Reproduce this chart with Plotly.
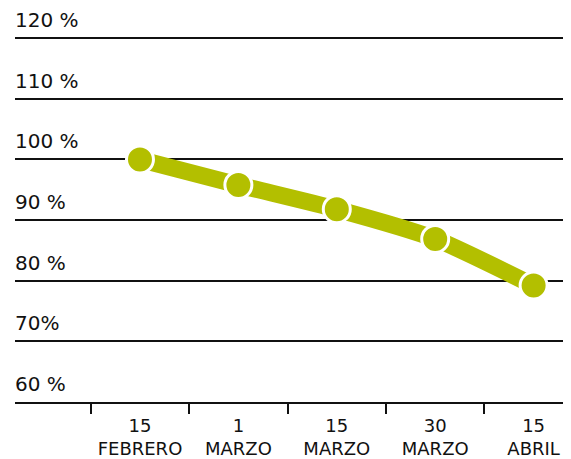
import plotly.graph_objects as go

categories = ["15<br>FEBRERO", "1<br>MARZO", "15<br>MARZO", "30<br>MARZO", "15<br>ABRIL"]
values = [100, 95.8, 91.8, 86.9, 79.2]
y_ticks = [60, 70, 80, 90, 100, 110, 120]
y_labels = ["60 %", "70%", "80 %", "90 %", "100 %", "110 %", "120 %"]

GREEN = "#b3bf00"
FONT = "DejaVu Sans, sans-serif"

fig = go.Figure()
fig.add_trace(go.Scatter(
    x=list(range(len(categories))), y=values, mode="lines+markers",
    line=dict(color=GREEN, width=17, shape="spline", smoothing=0.6),
    marker=dict(size=27, color=GREEN, line=dict(color="white", width=3)),
    hoverinfo="skip", showlegend=False, cliponaxis=False,
))

for v, lab in zip(y_ticks, y_labels):
    fig.add_annotation(x=0, xref="paper", y=v, yref="y", text=lab, showarrow=False,
                       xanchor="left", yanchor="bottom", yshift=4, xshift=-2,
                       font=dict(family=FONT, size=20, color="#111111"))

# page body has an 8px margin: figure is offset by 8px
fig.update_layout(
    width=563, height=451,
    margin=dict(l=7, r=0, t=29, b=52),
    paper_bgcolor="white", plot_bgcolor="white",
    font=dict(family=FONT, size=18, color="#111111"),
    xaxis=dict(
        tickmode="array", tickvals=list(range(len(categories))), ticktext=categories,
        range=[-1.27, 4.38], showgrid=False, zeroline=False,
        showline=False, ticks="", tickfont=dict(size=18), ticklabelstandoff=11,
    ),
    yaxis=dict(
        range=[60, 120.2], tickvals=y_ticks, showticklabels=False,
        showgrid=True, gridcolor="#111111", gridwidth=2, zeroline=False, showline=False,
    ),
)

fig.add_trace(go.Scatter(x=[None], y=[None], xaxis="x2", showlegend=False, hoverinfo="skip"))
fig.update_layout(xaxis2=dict(
    overlaying="x", side="bottom", range=[-1.27, 4.38],
    tickmode="array", tickvals=[-0.5, 0.5, 1.5, 2.5, 3.5], showticklabels=False,
    ticks="outside", ticklen=10, tickwidth=2, tickcolor="#111111",
    showline=True, linecolor="#111111", linewidth=2, showgrid=False, zeroline=False,
))

fig.write_html("out.html")
